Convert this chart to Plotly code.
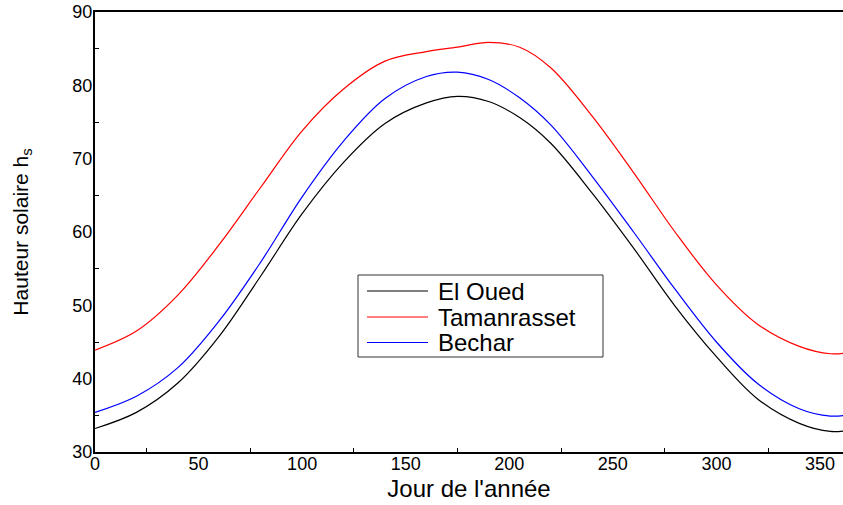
import plotly.graph_objects as go

# Day of year sample points
days = [0, 20, 40, 60, 80, 100, 120, 140, 160, 175, 190, 205, 220, 240, 260, 280, 300, 320, 340, 355, 365]

# Solar height (degrees) per site
el_oued = [33.2, 35.4, 39.4, 45.8, 54.0, 62.5, 69.5, 74.8, 77.6, 78.5, 77.8, 75.6, 72.1, 65.3, 57.8, 49.9, 43.0, 37.2, 33.9, 32.8, 33.0]
tamanrasset = [43.9, 46.5, 51.4, 58.3, 66.1, 73.8, 79.5, 83.3, 84.6, 85.2, 85.85, 85.2, 82.4, 75.8, 68.1, 60.0, 52.8, 47.4, 44.4, 43.4, 43.6]
bechar = [35.4, 37.6, 41.5, 47.9, 55.9, 64.8, 72.4, 78.2, 81.2, 81.8, 80.8, 78.3, 74.6, 67.6, 60.0, 52.2, 45.0, 39.3, 35.9, 34.9, 35.1]

series = [
    ("El Oued", el_oued, "#000000"),
    ("Tamanrasset", tamanrasset, "#ff0000"),
    ("Bechar", bechar, "#0000ff"),
]

W, H = 843, 505
ML, MR, MT, MB = 95, 0, 12, 53
PW, PH = W - ML - MR, H - MT - MB

FONT = "Liberation Sans, Arial, sans-serif"

fig = go.Figure()
for name, y, color in series:
    fig.add_trace(go.Scatter(
        x=days, y=y, mode="lines", name=name,
        line=dict(color=color, width=1.2, shape="spline", smoothing=1.0),
        showlegend=False,
    ))


def px_x(p):
    return (p - ML) / PW


def px_y(p):
    return (H - MB - p) / PH


# Legend box drawn in paper coordinates
shapes = [dict(type="rect", xref="paper", yref="paper",
               x0=px_x(358), x1=px_x(603), y0=px_y(357), y1=px_y(275),
               line=dict(color="#333333", width=1), fillcolor="white", layer="above")]
annotations = []
rows = [291, 317, 342.5]
for (name, _, color), ry in zip(series, rows):
    shapes.append(dict(type="line", xref="paper", yref="paper",
                       x0=px_x(367), x1=px_x(428), y0=px_y(ry), y1=px_y(ry),
                       line=dict(color=color, width=1), layer="above"))
    annotations.append(dict(xref="paper", yref="paper", x=px_x(436), y=px_y(ry),
                            text=name, showarrow=False, xanchor="left", yanchor="middle",
                            font=dict(family=FONT, size=24, color="black")))

fig.update_layout(
    width=W, height=H,
    margin=dict(l=ML, r=MR, t=MT, b=MB),
    paper_bgcolor="white", plot_bgcolor="white",
    shapes=shapes, annotations=annotations,
    font=dict(family=FONT, color="black"),
)
fig.update_xaxes(
    range=[0, 361.1], tick0=0, dtick=50,
    showgrid=False, zeroline=False,
    showline=True, linecolor="black", linewidth=2, mirror=True,
    ticks="inside", ticklen=0,
    minor=dict(ticks="inside", ticklen=4, tick0=25, dtick=50, tickcolor="black", showgrid=False),
    tickfont=dict(family=FONT, size=18, color="black"),
    ticklabelstandoff=-6,
    title=dict(text="Jour de l'année", font=dict(family=FONT, size=24, color="black"), standoff=8),
)
fig.update_yaxes(
    range=[30, 90], tick0=30, dtick=10,
    showgrid=False, zeroline=False,
    showline=True, linecolor="black", linewidth=2,
    ticks="inside", ticklen=0,
    minor=dict(ticks="inside", ticklen=4, tick0=35, dtick=10, tickcolor="black", showgrid=False),
    tickfont=dict(family=FONT, size=18, color="black"),
    ticklabelstandoff=-3,
    title=dict(text="Hauteur solaire h<sub>s</sub>", font=dict(family=FONT, size=21, color="black"), standoff=38),
)

fig.write_html("out.html")
